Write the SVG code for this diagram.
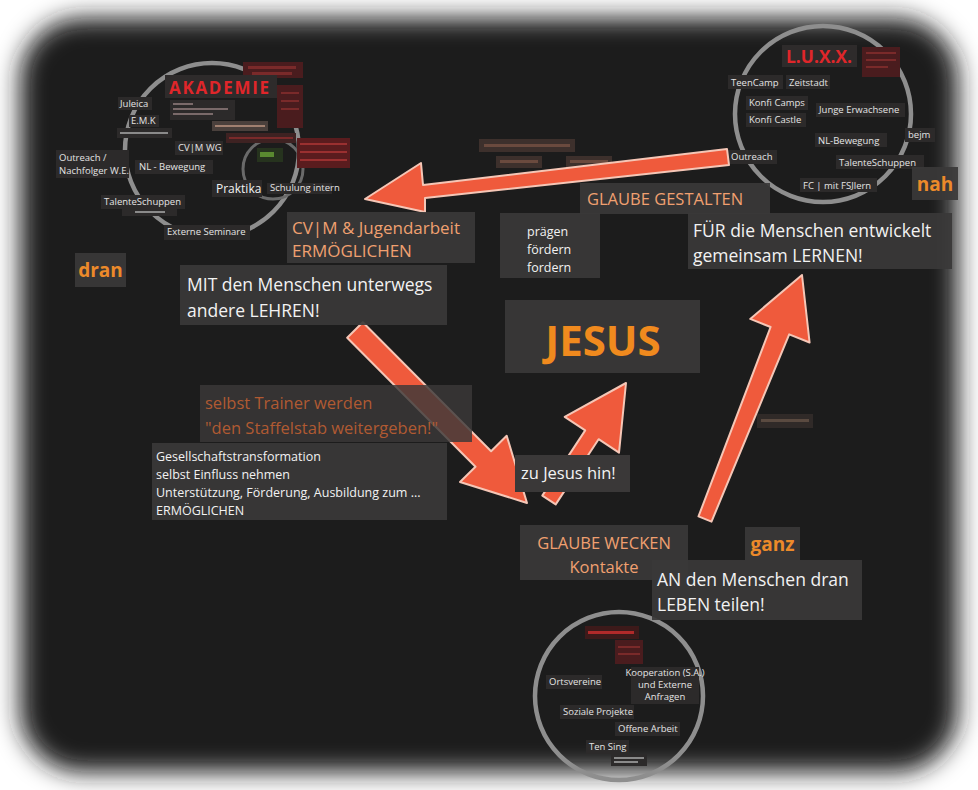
<svg xmlns="http://www.w3.org/2000/svg" width="978" height="790" viewBox="0 0 978 790">
<defs>
<filter id="soft" x="-10%" y="-10%" width="120%" height="120%"><feGaussianBlur stdDeviation="12"/></filter>
<style>
.box{fill:#3a3838;fill-opacity:0.92}
.sb{fill:#2c2a2a}
.t{font-family:"Open Sans","DejaVu Sans",sans-serif;fill:#f2f2f2}
.s{font-size:9.5px;fill:#e4e4e4}
.pe{fill:#f0a070}
.ob{fill:#ec8a2a;font-weight:bold;font-size:19px}
.red{fill:#e0262a;font-weight:bold}
.ring{fill:none;stroke:#8e8e8e;stroke-width:4.5}
.arr{fill:#ef5a3c;stroke:#f5c6b6;stroke-width:2;stroke-linejoin:round}
.rb{fill:#4a1c1e}
.bar{fill:#7a2a2a}
.tb{fill:#4a403c}
</style>
</defs>
<rect width="978" height="790" fill="#ffffff"/>
<rect x="20" y="18" width="938" height="754" rx="62" fill="#1c1a1a" filter="url(#soft)"/>

<!-- Top-left circle: AKADEMIE -->
<g id="akademie">
<circle class="ring" cx="212" cy="150" r="87"/>
<circle cx="273" cy="169" r="30" fill="none" stroke="#6a6a6a" stroke-width="3"/>
<rect x="243" y="62" width="60" height="16" class="rb"/><rect x="248" y="66" width="48" height="3" class="bar"/><rect x="252" y="72" width="40" height="3" class="bar"/>
<rect x="165" y="75" width="112" height="23" fill="#2e2b2b"/>
<text x="169" y="94" class="t red" font-size="17" textLength="100">AKADEMIE</text>
<rect x="277" y="85" width="26" height="43" class="rb"/><rect x="281" y="92" width="18" height="2" class="bar"/><rect x="281" y="100" width="18" height="2" class="bar"/><rect x="281" y="108" width="18" height="2" class="bar"/>
<rect x="170" y="100" width="65" height="20" class="sb"/><rect x="173" y="103" width="20" height="2" fill="#7a6a6a"/><rect x="173" y="108" width="55" height="2" fill="#7a6a6a"/><rect x="173" y="113" width="40" height="2" fill="#7a6a6a"/>
<rect x="118" y="97" width="34" height="13" class="sb"/><text x="120" y="107" class="t s" font-size="10">Juleica</text>
<rect x="129" y="115" width="30" height="12" class="sb"/><text x="131" y="124" class="t s" font-size="9">E.M.K</text>
<rect x="117" y="128" width="55" height="10" class="sb"/><rect x="120" y="132" width="48" height="2" fill="#8a8a8a"/>
<rect x="175" y="141" width="48" height="14" class="sb"/><text x="178" y="151" class="t s" font-size="10">CV|M WG</text>
<rect x="56" y="150" width="73" height="28" class="sb"/><text x="59" y="161" class="t s" font-size="10">Outreach /</text><text x="59" y="174" class="t s" font-size="10">Nachfolger W.E.</text>
<rect x="135" y="160" width="78" height="14" class="sb"/><text x="139" y="170" class="t s" font-size="10">NL - Bewegung</text>
<rect x="212" y="121" width="56" height="10" class="tb"/><rect x="215" y="125" width="50" height="2" fill="#a08070"/>
<rect x="226" y="133" width="70" height="10" fill="#3e2222"/><rect x="229" y="137" width="64" height="2" class="bar"/>
<rect x="297" y="138" width="53" height="30" fill="#5a1c1e"/><rect x="300" y="143" width="47" height="2" fill="#9a3030"/><rect x="300" y="151" width="47" height="2" fill="#9a3030"/><rect x="300" y="159" width="47" height="2" fill="#9a3030"/>
<rect x="257" y="148" width="26" height="14" fill="#26331e"/><rect x="260" y="152" width="14" height="5" fill="#5a8a30"/>
<rect x="212" y="180" width="50" height="17" class="sb"/><text x="216" y="193" class="t" font-size="12">Praktika</text>
<rect x="267" y="183" width="65" height="11" class="sb"/><text x="270" y="191" class="t s" font-size="7.5">Schulung intern</text>
<rect x="101" y="195" width="84" height="14" class="sb"/><text x="104" y="205" class="t s" font-size="9.5">TalenteSchuppen</text>
<rect x="122" y="209" width="55" height="7" class="sb"/><rect x="135" y="211" width="30" height="2" fill="#8a8a8a"/>
<rect x="164" y="225" width="86" height="15" class="sb"/><text x="167" y="235" class="t s" font-size="9.5">Externe Seminare</text>
</g>

<!-- Top-right circle: LUXX -->
<g id="luxx">
<circle class="ring" cx="823" cy="114" r="88"/>
<rect x="782" y="45" width="75" height="22" fill="#2e2b2b"/>
<text x="786" y="63" class="t red" font-size="17" textLength="66" lengthAdjust="spacingAndGlyphs">L.U.X.X.</text>
<rect x="862" y="47" width="38" height="30" class="rb"/><rect x="866" y="52" width="30" height="2" class="bar"/><rect x="866" y="59" width="30" height="2" class="bar"/><rect x="866" y="66" width="22" height="2" class="bar"/>
<rect x="728" y="75" width="55" height="14" class="sb"/><text x="731" y="86" class="t s">TeenCamp</text>
<rect x="786" y="75" width="44" height="14" class="sb"/><text x="789" y="86" class="t s">Zeitstadt</text>
<rect x="746" y="96" width="62" height="14" class="sb"/><text x="749" y="106" class="t s">Konfi Camps</text>
<rect x="746" y="113" width="60" height="14" class="sb"/><text x="749" y="123" class="t s">Konfi Castle</text>
<rect x="816" y="103" width="89" height="14" class="sb"/><text x="819" y="113" class="t s">Junge Erwachsene</text>
<rect x="815" y="133" width="72" height="14" class="sb"/><text x="818" y="144" class="t s">NL-Bewegung</text>
<rect x="905" y="128" width="30" height="14" class="sb"/><text x="908" y="138" class="t s">bejm</text>
<rect x="728" y="150" width="49" height="14" class="sb"/><text x="731" y="160" class="t s">Outreach</text>
<rect x="836" y="155" width="88" height="14" class="sb"/><text x="839" y="166" class="t s">TalenteSchuppen</text>
<rect x="800" y="178" width="77" height="14" class="sb"/><text x="803" y="189" class="t s">FC | mit FSJlern</text>
</g>

<!-- Bottom circle -->
<g id="kontakte-kreis">
<circle class="ring" cx="619" cy="696" r="84"/>
<rect x="585" y="626" width="54" height="13" fill="#3d1a1a"/><rect x="588" y="631" width="46" height="3" fill="#b02a2a"/>
<rect x="615" y="640" width="28" height="24" class="rb"/><rect x="618" y="646" width="22" height="2" class="bar"/><rect x="618" y="653" width="22" height="2" class="bar"/>
<rect x="546" y="675" width="56" height="14" class="sb"/><text x="549" y="685" class="t s" font-size="9">Ortsvereine</text>
<rect x="631" y="667" width="68" height="37" class="sb"/><text x="665" y="676" class="t s" font-size="5.5" text-anchor="middle">Kooperation (S.A.)</text><text x="665" y="688" class="t s" font-size="5.5" text-anchor="middle">und Externe</text><text x="665" y="700" class="t s" font-size="5.5" text-anchor="middle">Anfragen</text>
<rect x="560" y="705" width="74" height="14" class="sb"/><text x="563" y="715" class="t s" font-size="9">Soziale Projekte</text>
<rect x="615" y="722" width="65" height="14" class="sb"/><text x="618" y="732" class="t s" font-size="9">Offene Arbeit</text>
<rect x="586" y="740" width="43" height="14" class="sb"/><text x="589" y="750" class="t s" font-size="9">Ten Sing</text>
<rect x="611" y="754" width="36" height="12" class="sb"/><rect x="614" y="757" width="30" height="2" fill="#8a8a8a"/><rect x="614" y="761" width="24" height="2" fill="#8a8a8a"/>
</g>

<!-- small unlabelled boxes -->
<g id="kleine-boxen">
<rect x="479" y="139" width="96" height="13" fill="#3d302c"/><rect x="484" y="144" width="86" height="3" fill="#6a4a3e"/>
<rect x="496" y="156" width="46" height="12" fill="#3d302c"/><rect x="500" y="160" width="38" height="3" fill="#6a4a3e"/>
<rect x="566" y="156" width="46" height="12" fill="#3d302c"/><rect x="570" y="160" width="38" height="3" fill="#6a4a3e"/>
<rect x="757" y="414" width="56" height="14" fill="#302a28"/><rect x="761" y="419" width="48" height="3" fill="#5a4a40"/>
</g>

<!-- Connectors -->
<g id="connectors">
<polygon class="arr" points="365,199 425,212 425,198 729,165 727,149 423,185 421,163"/>
<polygon class="arr" points="527,503 460,482 475.5,466.8 347.2,337.8 362.8,322.2 491.1,451.2 506.7,435.7"/>
<polygon class="arr" points="626,383 619,452.7 598.6,439.2 555.7,504.4 542.3,495.6 585.2,430.4 564.7,416.9"/>
<polygon class="arr" points="802,275 809.6,342.5 789.2,334.4 711.5,521.6 698.5,516.4 770.6,327 750.2,318.9"/>
</g>

<g id="dran"><rect x="75" y="253" width="51" height="34" class="box"/><text x="100.5" y="277" class="t ob" text-anchor="middle">dran</text></g>
<g id="cvjm"><rect x="287" y="212" width="188" height="51" class="box"/><text x="292" y="234" class="t pe" font-size="17">CV|M &amp; Jugendarbeit</text><text x="292" y="257" class="t pe" font-size="17">ERMÖGLICHEN</text></g>
<g id="mit"><rect x="180" y="265" width="267" height="60" class="box"/><text x="187" y="291" class="t" font-size="17.5">MIT den Menschen unterwegs</text><text x="187" y="317" class="t" font-size="17.5">andere LEHREN!</text></g>
<g id="praegen"><rect x="500" y="213" width="100" height="65" class="box"/><text x="527" y="236" class="t" font-size="12.5">prägen</text><text x="527" y="254" class="t" font-size="12.5">fördern</text><text x="527" y="272" class="t" font-size="12.5">fordern</text></g>
<g id="jesus"><rect x="505" y="300" width="195" height="73" class="box"/><text x="603" y="356" class="t" font-size="42" font-weight="bold" text-anchor="middle" style="fill:#f08a1e">JESUS</text></g>
<g id="gestalten"><rect x="580" y="183" width="190" height="31" class="box"/><text x="587" y="205" class="t pe" font-size="16.5">GLAUBE GESTALTEN</text></g>
<g id="fuer"><rect x="688" y="213" width="264" height="56" class="box"/><text x="693" y="237" class="t" font-size="17.5">FÜR die Menschen entwickelt</text><text x="693" y="262" class="t" font-size="17.5">gemeinsam LERNEN!</text></g>
<g id="nah"><rect x="912" y="167" width="46" height="33" class="box"/><text x="935" y="191" class="t ob" text-anchor="middle">nah</text></g>
<g id="trainer"><rect x="200" y="385" width="272" height="57" fill="#3a3838" fill-opacity="0.82"/><text x="205" y="409" class="t" font-size="16.5" style="fill:#b05a32">selbst Trainer werden</text><text x="205" y="434" class="t" font-size="16.5" style="fill:#b05a32">"den Staffelstab weitergeben!"</text></g>
<g id="gesellschaft"><rect x="152" y="443" width="295" height="77" class="box"/><text x="156" y="461" class="t" font-size="12.5">Gesellschaftstransformation</text><text x="156" y="479" class="t" font-size="12.5">selbst Einfluss nehmen</text><text x="156" y="497" class="t" font-size="12.5">Unterstützung, Förderung, Ausbildung zum ...</text><text x="156" y="515" class="t" font-size="12.5">ERMÖGLICHEN</text></g>
<g id="zujesus"><rect x="515" y="455" width="115" height="37" fill="#3a3838"/><text x="521" y="479" class="t" font-size="16.5">zu Jesus hin!</text></g>
<g id="wecken"><rect x="520" y="525" width="168" height="55" class="box"/><text x="604" y="549" class="t pe" font-size="16.5" text-anchor="middle">GLAUBE WECKEN</text><text x="604" y="573" class="t pe" font-size="16.5" text-anchor="middle">Kontakte</text></g>
<g id="ganz"><rect x="745" y="527" width="55" height="33" class="box"/><text x="772.5" y="551" class="t ob" text-anchor="middle">ganz</text></g>
<g id="an"><rect x="652" y="560" width="210" height="60" class="box"/><text x="657" y="586" class="t" font-size="17.5">AN den Menschen dran</text><text x="657" y="611" class="t" font-size="17.5">LEBEN teilen!</text></g>
</svg>
